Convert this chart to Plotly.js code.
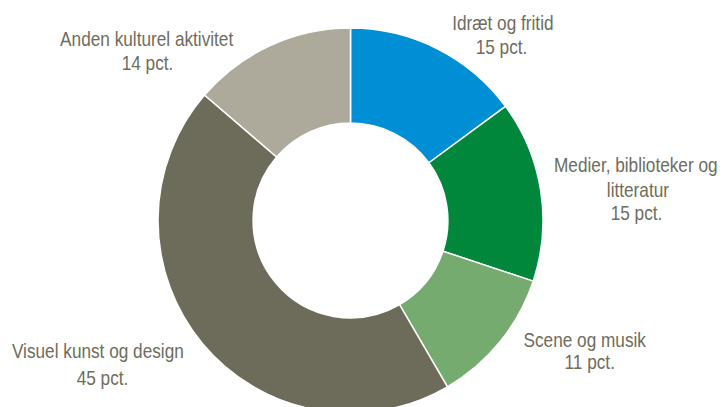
<!DOCTYPE html>
<html><head><meta charset="utf-8">
<script src="https://cdn.plot.ly/plotly-3.0.1.min.js"></script>
<style>html,body{margin:0;padding:0;overflow:hidden;background:#fff;width:722px;height:407px}</style>
</head><body><div id="chart"></div>
<script>
const categories = ["Idræt og fritid", "Medier, biblioteker og litteratur", "Scene og musik", "Visuel kunst og design", "Anden kulturel aktivitet"];
const values = [14.9, 15.2, 11.5, 44.7, 13.7];
const pctLabels = ["15 pct.", "15 pct.", "11 pct.", "45 pct.", "14 pct."];
const colors = ["#008fd5", "#00873b", "#76ab70", "#6d6c5b", "#adaa9b"];
const labelLines = [["Idræt og fritid"], ["Medier, biblioteker og", "litteratur"], ["Scene og musik"], ["Visuel kunst og design"], ["Anden kulturel aktivitet"]];
// label line centres (px) for each category: one entry per line incl. the pct line
const labelPos = [
  [[502.5, 22.5], [501, 46]],
  [[636, 164.7], [637.5, 189], [636.7, 212.5]],
  [[584.7, 339], [589.5, 361]],
  [[98.3, 350.5], [102.7, 377]],
  [[146, 38.5], [147, 63]]
];

const W = 722, H = 441;
const FONT = {family: "Liberation Sans, Arial, sans-serif", size: 21, color: "#6e6d5e"};
const annotations = [];
categories.forEach((c, i) => {
  const lines = labelLines[i].concat([pctLabels[i]]);
  lines.forEach((ln, j) => {
    annotations.push({
      xref: "paper", yref: "paper",
      x: labelPos[i][j][0] / W, y: 1 - labelPos[i][j][1] / H,
      xanchor: "center", yanchor: "middle",
      text: ln, showarrow: false, font: FONT
    });
  });
});

Plotly.newPlot("chart", [{
  type: "pie",
  labels: categories,
  values: values,
  sort: false,
  direction: "clockwise",
  rotation: 0,
  hole: 0.506,
  textinfo: "none",
  hoverinfo: "label+percent",
  marker: {colors: colors, line: {color: "#ffffff", width: 1.5}},
  domain: {x: [158 / W, 543 / W], y: [0, 1]}
}], {
  width: W, height: H,
  margin: {l: 0, r: 0, t: 0, b: 0},
  showlegend: false,
  paper_bgcolor: "#fff",
  annotations: annotations
}, {displayModeBar: false, staticPlot: true}).then(() => {
  // emulate a narrow (condensed) typeface by compressing each label horizontally about its centre
  document.querySelectorAll("#chart text.annotation-text").forEach(t => {
    const b = t.getBBox();
    const cx = b.x + b.width / 2;
    const prev = t.getAttribute("transform") || "";
    t.setAttribute("transform", prev + " translate(" + cx + ",0) scale(0.82,1) translate(" + (-cx) + ",0)");
  });
});
</script></body></html>
